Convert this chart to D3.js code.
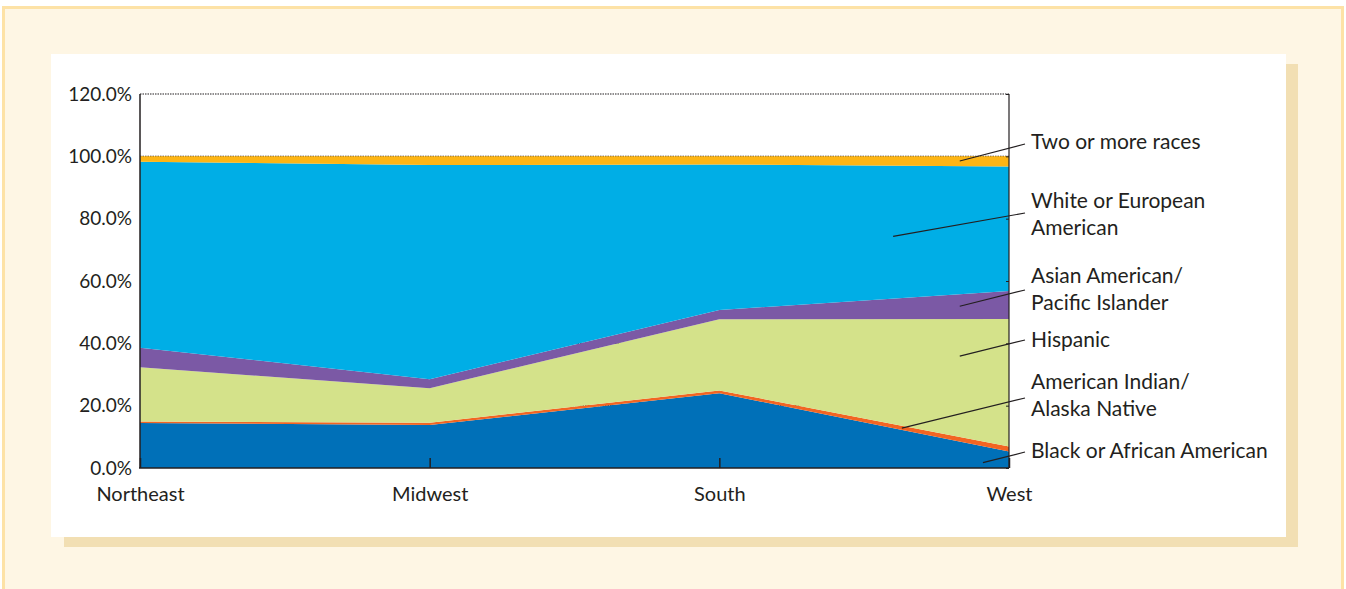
<!DOCTYPE html>
<html>
<head>
<meta charset="utf-8">
<script src="https://cdn.jsdelivr.net/npm/d3@7"></script>
<style>
  body { margin: 0; background: #fff; }
  text { font-family: Lato, "Open Sans", sans-serif; fill: #231f20; }
</style>
</head>
<body>
<div id="chart"></div>
<script>
// data (percent of population by region)
const regions = ["Northeast", "Midwest", "South", "West"];
const groups = ["black", "amind", "hispanic", "asian", "white", "two"];
const black    = [14.4, 13.8, 24.0, 5.3];
const amind    = [0.5, 0.7, 0.9, 1.6];
const hispanic = [17.4, 11.1, 22.8, 40.9];
const asian    = [6.3, 2.9, 3.0, 9.0];
const white    = [59.7, 68.7, 46.7, 39.9];
const two      = [1.7, 2.8, 2.6, 3.3];
const yTicks = [0, 20, 40, 60, 80, 100, 120];
const labels = [
  ["Two or more races"],
  ["White or European", "American"],
  ["Asian American/", "Pacific Islander"],
  ["Hispanic"],
  ["American Indian/", "Alaska Native"],
  ["Black or African American"]
];

const W = 1346, H = 589;
const PLOT = {left: 140, right: 1009, top: 94, bottom: 468};
const colors = {
  black: "#0070b8", amind: "#f26522", hispanic: "#d4e28a",
  asian: "#7b59a5", white: "#00aee6", two: "#fdb515"
};

const svg = d3.select("#chart")
  .append("svg")
    .attr("width", W)
    .attr("height", H);

// frame and panel
svg.append("rect").attr("x", 0).attr("y", 0).attr("width", W).attr("height", H).attr("fill", "#fff");
svg.append("rect").attr("x", 3.5).attr("y", 7.5).attr("width", 1339).attr("height", 600)
  .attr("fill", "#fef6e4").attr("stroke", "#fde2a6").attr("stroke-width", 3);
svg.append("rect").attr("x", 64).attr("y", 64).attr("width", 1234).attr("height", 483).attr("fill", "#f2dfb3");
svg.append("rect").attr("x", 51).attr("y", 54).attr("width", 1235).attr("height", 483).attr("fill", "#fff");

const x = d3.scalePoint().domain(regions).range([PLOT.left, PLOT.right]);
const xi = d3.scaleLinear().domain([0, regions.length - 1]).range([PLOT.left, PLOT.right]);
const y = d3.scaleLinear().domain([0, 120]).range([PLOT.bottom, PLOT.top]);

const series = {black, amind, hispanic, asian, white, two};
const rows = regions.map((r, i) => {
  const o = {region: r};
  groups.forEach(g => { o[g] = series[g][i]; });
  return o;
});
const stack = d3.stack().keys(groups)(rows);

// dotted gridlines (only show above the stack)
svg.append("g")
  .selectAll("line")
  .data(yTicks.filter(t => t > 0))
  .enter()
  .append("line")
    .attr("x1", PLOT.left).attr("x2", PLOT.right)
    .attr("y1", d => y(d)).attr("y2", d => y(d))
    .attr("stroke", "#231f20")
    .attr("stroke-width", 1.2)
    .attr("stroke-dasharray", "1.5,1");

const area = d3.area()
  .x(d => x(d.data.region))
  .y0(d => y(d[0]))
  .y1(d => y(d[1]));

svg.append("g")
  .selectAll("path")
  .data(stack)
  .enter()
  .append("path")
    .attr("d", area)
    .attr("fill", d => colors[d.key]);

// axes
const yAxis = svg.append("g")
  .attr("transform", `translate(${PLOT.left},0)`)
  .call(d3.axisLeft(y).tickValues(yTicks).tickSize(0).tickPadding(8)
    .tickFormat(d => d.toFixed(1) + "%"));
yAxis.select(".domain").remove();
yAxis.selectAll("text").style("font-size", "19px").style("font-family", "Lato, sans-serif").attr("fill", "#231f20");

const rAxis = svg.append("g")
  .attr("transform", `translate(${PLOT.right},0)`)
  .call(d3.axisLeft(y).tickValues(yTicks).tickSize(3).tickFormat(""));
rAxis.select(".domain").remove();
rAxis.selectAll("line").attr("stroke", "#231f20");

const xAxis = svg.append("g")
  .attr("transform", `translate(0,${PLOT.bottom})`)
  .call(d3.axisBottom(x).tickSize(-10).tickPadding(19));
xAxis.select(".domain").remove();
xAxis.selectAll("line").attr("stroke", "#231f20").attr("stroke-width", 1.5);
xAxis.selectAll("text").style("font-size", "20px").style("font-family", "Lato, sans-serif").attr("fill", "#231f20");

svg.append("line").attr("x1", PLOT.left).attr("x2", PLOT.left).attr("y1", PLOT.top).attr("y2", PLOT.bottom)
  .attr("stroke", "#231f20").attr("stroke-width", 1.5);
svg.append("line").attr("x1", PLOT.right).attr("x2", PLOT.right).attr("y1", PLOT.top).attr("y2", PLOT.bottom)
  .attr("stroke", "#231f20").attr("stroke-width", 1.2);
svg.append("line").attr("x1", PLOT.left - 1).attr("x2", PLOT.right).attr("y1", PLOT.bottom).attr("y2", PLOT.bottom)
  .attr("stroke", "#231f20").attr("stroke-width", 1.5);

// annotations: label block centre, and leader point in chart units (x index, y %)
const notes = [
  {lines: labels[0], ty: 142, px: 2.83, py: 98.5, ly: 144},
  {lines: labels[1], ty: 214, px: 2.60, py: 74.3, ly: 213},
  {lines: labels[2], ty: 289, px: 2.83, py: 51.9, ly: 290},
  {lines: labels[3], ty: 340, px: 2.83, py: 35.9, ly: 340},
  {lines: labels[4], ty: 395, px: 2.63, py: 12.8, ly: 398},
  {lines: labels[5], ty: 451, px: 2.91, py: 1.7, ly: 452}
];
const LX = 1031;
notes.forEach(n => {
  svg.append("line")
    .attr("x1", LX - 6).attr("y1", n.ly)
    .attr("x2", xi(n.px)).attr("y2", y(n.py))
    .attr("stroke", "#231f20").attr("stroke-width", 1.2);
  const t = svg.append("text")
    .attr("x", LX)
    .attr("y", n.ty - (n.lines.length - 1) * 13.5)
    .style("font-size", "21px");
  n.lines.forEach((l, i) => {
    t.append("tspan").attr("x", LX).attr("dy", i === 0 ? "0.35em" : 27).text(l);
  });
});
</script>
</body>
</html>
